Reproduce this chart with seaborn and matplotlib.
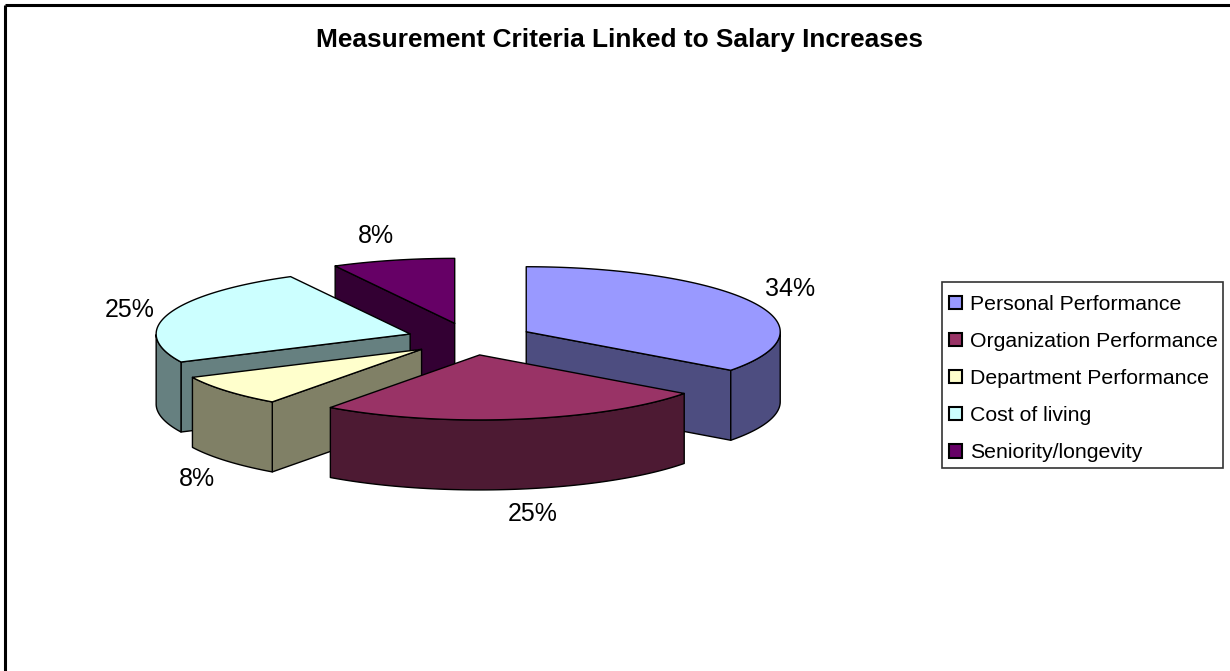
import numpy as np
import pandas as pd
import matplotlib
matplotlib.use('Agg')
import matplotlib.pyplot as plt
from matplotlib.patches import Rectangle
import seaborn as sns

categories = ['Personal Performance', 'Organization Performance', 'Department Performance',
              'Cost of living', 'Seniority/longevity']
# slice sizes as drawn in the picture, the printed labels are rounded differently
shares = [35.1, 24.9, 7.9, 24.3, 7.8]
pct_labels = ['34%', '25%', '8%', '25%', '8%']
colors = ['#9999FF', '#993366', '#FFFFCC', '#CCFFFF', '#660066']

sns.set_theme(style="white")
plt.rcParams['font.family'] = ['Liberation Sans', 'DejaVu Sans']

W, H = 1230, 671
# pie geometry in pixels, the axes below work in px so the ellipse is easy to tune
cx, cy = 470, 339
rx, ry = 254, 65
depth = 70
explode = 63
edge = dict(edgecolor='black', linewidth=1.0, joinstyle='round')

df = pd.DataFrame({'category': categories, 'share': shares, 'color': colors})
df['end'] = 90 - df['share'].cumsum() * 3.6
df['start'] = df['end'] + df['share'] * 3.6
df['mid'] = (df['start'] + df['end']) / 2

fig = plt.figure(figsize=(W / 100, H / 100), dpi=100)
ax = fig.add_axes([0, 0, 1, 1])
ax.set_xlim(0, W)
ax.set_ylim(H, 0)
ax.axis('off')


def pt(ang, ox, oy):
    a = np.radians(ang)
    return ox + rx * np.cos(a), oy - ry * np.sin(a)


def darker(c):
    return tuple(v * 0.5 for v in matplotlib.colors.to_rgb(c))


# back slices first, the front ones cover their walls
for i in [4, 3, 2, 0, 1]:
    s = df.iloc[i]
    m = np.radians(s['mid'])
    ox = cx + explode * np.cos(m)
    oy = cy - explode * ry / rx * np.sin(m)
    wall = darker(s['color'])

    # cut faces, only the ones turned towards the viewer
    for ang, normal in [(s['start'], s['start'] + 90), (s['end'], s['end'] - 90)]:
        if np.sin(np.radians(normal)) < -0.01:
            x, y = pt(ang, ox, oy)
            ax.fill([ox, x, x, ox], [oy, y, y + depth, oy + depth], facecolor=wall, **edge)

    # outer wall, front half of the ellipse only
    ang = np.linspace(s['start'], s['end'], 120)
    ang = ang[np.sin(np.radians(ang)) <= 0]
    if len(ang) > 1:
        x, y = pt(ang, ox, oy)
        ax.fill(np.r_[x, x[::-1]], np.r_[y, y[::-1] + depth], facecolor=wall, **edge)

    # top
    x, y = pt(np.linspace(s['start'], s['end'], 120), ox, oy)
    ax.fill(np.r_[ox, x], np.r_[oy, y], facecolor=s['color'], **edge)

# percent labels
label_pos = [(790, 289), (533, 514), (197, 479), (130, 310), (376, 236)]
for (lx, ly), t in zip(label_pos, pct_labels):
    ax.text(lx, ly, t, fontsize=18, color='black', ha='center', va='center')

ax.text(619, 40, 'Measurement Criteria Linked to Salary Increases', fontsize=18.9,
        fontweight='bold', color='black', ha='center', va='center')

# legend box is drawn apart, its padding differs in x and y
ax.add_patch(Rectangle((942, 282), 281, 186, facecolor='white', edgecolor='#333333', linewidth=1.2, zorder=4))
handles = [Rectangle((0, 0), 1, 1, facecolor=c, edgecolor='black', linewidth=1.5) for c in colors]
leg = ax.legend(handles, categories, loc='upper left',
                bbox_to_anchor=(949 / W, 1 - 295 / H), bbox_transform=fig.transFigure,
                fontsize=15.3, frameon=False, handlelength=0.6, handleheight=0.6, handletextpad=0.4,
                labelspacing=0.85, borderpad=0, borderaxespad=0, labelcolor='black')
leg.set_zorder(5)

# chart border, runs off the picture on the other sides
ax.plot([5, 5], [H, 5], color='black', lw=2.2, solid_capstyle='butt')
ax.plot([5, W], [5, 5], color='black', lw=2.2, solid_capstyle='butt')

fig.savefig('out.png', dpi=100)
